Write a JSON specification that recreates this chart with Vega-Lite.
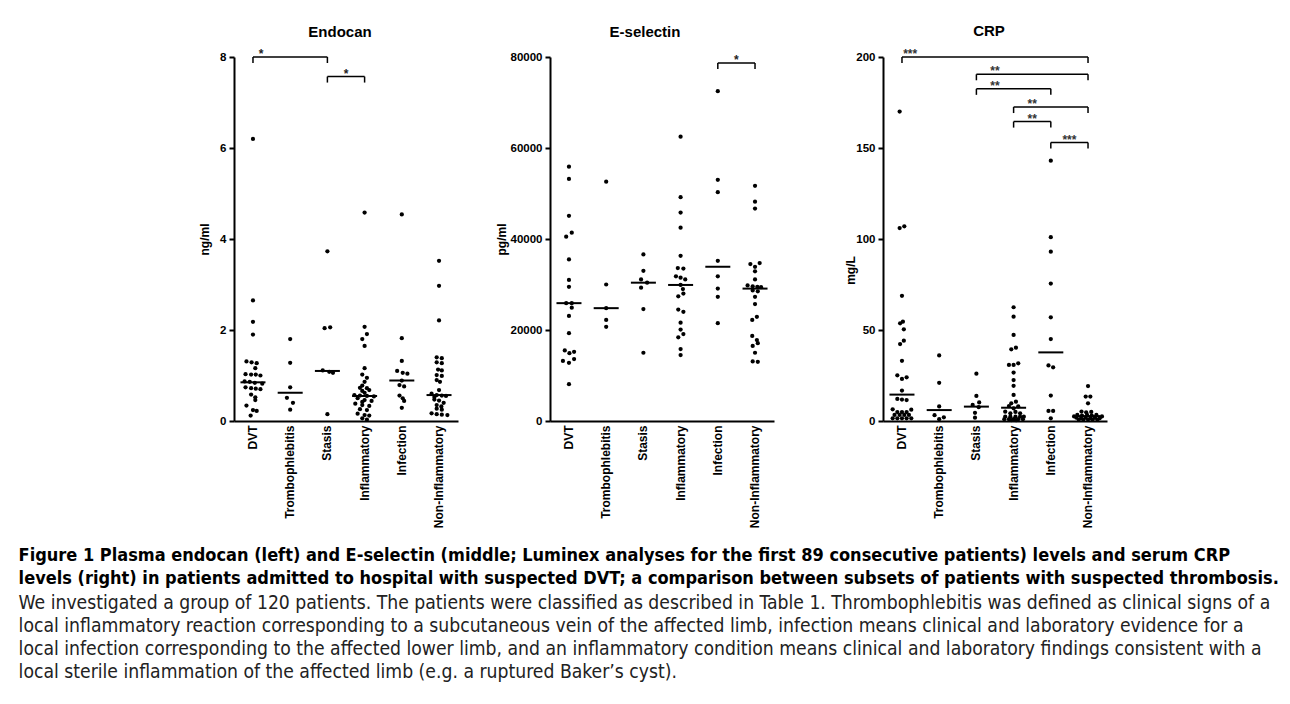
{
  "$schema": "https://vega.github.io/schema/vega-lite/v6.json",
  "background": "white",
  "padding": {"left": 18, "top": 24, "right": 5, "bottom": 5},
  "config": {
    "view": {"stroke": null},
    "axis": {"grid": false, "domainColor": "black", "domainWidth": 2, "tickColor": "black", "tickWidth": 2, "labelColor": "black", "labelFont": "Liberation Sans", "labelFontWeight": "bold", "labelFontSize": 11.5, "titleFont": "Liberation Sans", "titleFontWeight": "bold", "titleFontSize": 12, "titleColor": "black"},
    "axisX": {"ticks": false, "labelAngle": -90, "labelPadding": 4, "labelFontSize": 12},
    "axisY": {"tickSize": 5, "labelPadding": 3}
  },
  "datasets": {
    "endo": [
      {"g":"DVT","v":6.2,"j":0},{"g":"DVT","v":2.65,"j":0},{"g":"DVT","v":2.18,"j":0},{"g":"DVT","v":1.9,"j":0},{"g":"DVT","v":1.31,"j":-1.4},{"g":"DVT","v":1.29,"j":-0.3},{"g":"DVT","v":1.27,"j":0.8},{"g":"DVT","v":1.16,"j":0.5},{"g":"DVT","v":1.03,"j":-1.6},{"g":"DVT","v":1.02,"j":-0.4},{"g":"DVT","v":1.02,"j":0.6},{"g":"DVT","v":1.0,"j":1.6},{"g":"DVT","v":0.87,"j":-1.8},{"g":"DVT","v":0.86,"j":-0.7},{"g":"DVT","v":0.84,"j":0.4},{"g":"DVT","v":0.82,"j":2.0},{"g":"DVT","v":0.74,"j":-1.6},{"g":"DVT","v":0.72,"j":-0.4},{"g":"DVT","v":0.71,"j":0.6},{"g":"DVT","v":0.7,"j":1.6},{"g":"DVT","v":0.58,"j":-0.4},{"g":"DVT","v":0.52,"j":0.5},{"g":"DVT","v":0.46,"j":0.5},{"g":"DVT","v":0.34,"j":-1.4},{"g":"DVT","v":0.24,"j":0},{"g":"DVT","v":0.22,"j":0.8},{"g":"DVT","v":0.12,"j":-0.5},
      {"g":"Trombophlebitis","v":1.8,"j":0},{"g":"Trombophlebitis","v":1.28,"j":0},{"g":"Trombophlebitis","v":0.74,"j":0},{"g":"Trombophlebitis","v":0.51,"j":-0.7},{"g":"Trombophlebitis","v":0.4,"j":0.6},{"g":"Trombophlebitis","v":0.25,"j":0},
      {"g":"Stasis","v":3.73,"j":0},{"g":"Stasis","v":2.06,"j":0.6},{"g":"Stasis","v":2.04,"j":-0.6},{"g":"Stasis","v":1.11,"j":-1.0},{"g":"Stasis","v":1.08,"j":0.4},{"g":"Stasis","v":1.06,"j":1.2},{"g":"Stasis","v":0.15,"j":0},
      {"g":"Inflammatory","v":4.58,"j":0},{"g":"Inflammatory","v":2.07,"j":0},{"g":"Inflammatory","v":1.91,"j":0.5},{"g":"Inflammatory","v":1.8,"j":-0.5},{"g":"Inflammatory","v":1.65,"j":0},{"g":"Inflammatory","v":1.16,"j":0},{"g":"Inflammatory","v":1.02,"j":-0.5},{"g":"Inflammatory","v":0.95,"j":0.5},{"g":"Inflammatory","v":0.86,"j":0},{"g":"Inflammatory","v":0.78,"j":-0.5},{"g":"Inflammatory","v":0.73,"j":-1.0},{"g":"Inflammatory","v":0.72,"j":0.5},{"g":"Inflammatory","v":0.66,"j":-0.5},{"g":"Inflammatory","v":0.68,"j":1.0},{"g":"Inflammatory","v":0.62,"j":0},{"g":"Inflammatory","v":0.57,"j":-2.2},{"g":"Inflammatory","v":0.56,"j":-1.0},{"g":"Inflammatory","v":0.55,"j":0.5},{"g":"Inflammatory","v":0.54,"j":2.0},{"g":"Inflammatory","v":0.5,"j":-1.5},{"g":"Inflammatory","v":0.46,"j":0},{"g":"Inflammatory","v":0.44,"j":1.5},{"g":"Inflammatory","v":0.42,"j":-0.5},{"g":"Inflammatory","v":0.38,"j":-2.0},{"g":"Inflammatory","v":0.35,"j":-0.5},{"g":"Inflammatory","v":0.33,"j":1.0},{"g":"Inflammatory","v":0.26,"j":-1.0},{"g":"Inflammatory","v":0.24,"j":0.5},{"g":"Inflammatory","v":0.16,"j":-1.5},{"g":"Inflammatory","v":0.13,"j":0},{"g":"Inflammatory","v":0.12,"j":1.0},{"g":"Inflammatory","v":0.06,"j":-0.5},{"g":"Inflammatory","v":0.03,"j":0.5},
      {"g":"Infection","v":4.54,"j":0},{"g":"Infection","v":1.82,"j":0},{"g":"Infection","v":1.32,"j":0},{"g":"Infection","v":1.1,"j":-1.0},{"g":"Infection","v":1.06,"j":0.2},{"g":"Infection","v":1.04,"j":1.2},{"g":"Infection","v":0.89,"j":0},{"g":"Infection","v":0.79,"j":-0.5},{"g":"Infection","v":0.76,"j":0.5},{"g":"Infection","v":0.56,"j":-0.5},{"g":"Infection","v":0.5,"j":0.2},{"g":"Infection","v":0.44,"j":0.5},{"g":"Infection","v":0.29,"j":0},
      {"g":"Non-Inflammatory","v":3.52,"j":0},{"g":"Non-Inflammatory","v":2.97,"j":0},{"g":"Non-Inflammatory","v":2.21,"j":0},{"g":"Non-Inflammatory","v":1.4,"j":-0.5},{"g":"Non-Inflammatory","v":1.38,"j":0.6},{"g":"Non-Inflammatory","v":1.29,"j":-0.5},{"g":"Non-Inflammatory","v":1.27,"j":0.6},{"g":"Non-Inflammatory","v":1.13,"j":-0.2},{"g":"Non-Inflammatory","v":1.11,"j":0.6},{"g":"Non-Inflammatory","v":1.01,"j":-0.5},{"g":"Non-Inflammatory","v":0.99,"j":0.6},{"g":"Non-Inflammatory","v":0.9,"j":-0.5},{"g":"Non-Inflammatory","v":0.86,"j":0.2},{"g":"Non-Inflammatory","v":0.68,"j":0},{"g":"Non-Inflammatory","v":0.6,"j":-1.6},{"g":"Non-Inflammatory","v":0.57,"j":-0.5},{"g":"Non-Inflammatory","v":0.56,"j":0.6},{"g":"Non-Inflammatory","v":0.55,"j":1.5},{"g":"Non-Inflammatory","v":0.53,"j":-1.0},{"g":"Non-Inflammatory","v":0.47,"j":-1.0},{"g":"Non-Inflammatory","v":0.45,"j":0},{"g":"Non-Inflammatory","v":0.4,"j":1.0},{"g":"Non-Inflammatory","v":0.35,"j":-0.5},{"g":"Non-Inflammatory","v":0.32,"j":0.5},{"g":"Non-Inflammatory","v":0.27,"j":-0.5},{"g":"Non-Inflammatory","v":0.25,"j":0.6},{"g":"Non-Inflammatory","v":0.17,"j":-1.6},{"g":"Non-Inflammatory","v":0.15,"j":-0.5},{"g":"Non-Inflammatory","v":0.14,"j":0.6},{"g":"Non-Inflammatory","v":0.13,"j":1.8}
    ],
    "esel": [
      {"g":"DVT","v":55900,"j":0},{"g":"DVT","v":53200,"j":0},{"g":"DVT","v":45100,"j":0},{"g":"DVT","v":41400,"j":0.6},{"g":"DVT","v":40500,"j":-0.6},{"g":"DVT","v":35500,"j":0},{"g":"DVT","v":31000,"j":0},{"g":"DVT","v":29500,"j":0},{"g":"DVT","v":25900,"j":-0.6},{"g":"DVT","v":25900,"j":0.6},{"g":"DVT","v":24900,"j":0.6},{"g":"DVT","v":23100,"j":0},{"g":"DVT","v":19300,"j":0},{"g":"DVT","v":15500,"j":-0.9},{"g":"DVT","v":15200,"j":1.1},{"g":"DVT","v":14900,"j":0.1},{"g":"DVT","v":13600,"j":1.1},{"g":"DVT","v":13200,"j":-1.3},{"g":"DVT","v":12800,"j":0},{"g":"DVT","v":8100,"j":0},
      {"g":"Trombophlebitis","v":52600,"j":0},{"g":"Trombophlebitis","v":30000,"j":0},{"g":"Trombophlebitis","v":24800,"j":0},{"g":"Trombophlebitis","v":22200,"j":0},{"g":"Trombophlebitis","v":20700,"j":0},
      {"g":"Stasis","v":36600,"j":0},{"g":"Stasis","v":33000,"j":0},{"g":"Stasis","v":31100,"j":-0.5},{"g":"Stasis","v":30400,"j":0.8},{"g":"Stasis","v":29300,"j":-0.5},{"g":"Stasis","v":24600,"j":0},{"g":"Stasis","v":15000,"j":0},
      {"g":"Inflammatory","v":62500,"j":0},{"g":"Inflammatory","v":49200,"j":0},{"g":"Inflammatory","v":45800,"j":0},{"g":"Inflammatory","v":42500,"j":0},{"g":"Inflammatory","v":36300,"j":0},{"g":"Inflammatory","v":33600,"j":-0.6},{"g":"Inflammatory","v":33500,"j":0.6},{"g":"Inflammatory","v":31800,"j":-1.0},{"g":"Inflammatory","v":31500,"j":0},{"g":"Inflammatory","v":31100,"j":1.0},{"g":"Inflammatory","v":29900,"j":0},{"g":"Inflammatory","v":29000,"j":0.5},{"g":"Inflammatory","v":28000,"j":0.6},{"g":"Inflammatory","v":27400,"j":-0.5},{"g":"Inflammatory","v":24500,"j":-0.5},{"g":"Inflammatory","v":24000,"j":0.6},{"g":"Inflammatory","v":21600,"j":0},{"g":"Inflammatory","v":20100,"j":0},{"g":"Inflammatory","v":19100,"j":0.6},{"g":"Inflammatory","v":18400,"j":-0.5},{"g":"Inflammatory","v":15800,"j":0},{"g":"Inflammatory","v":14500,"j":0},
      {"g":"Infection","v":72500,"j":0},{"g":"Infection","v":53000,"j":0},{"g":"Infection","v":50300,"j":0},{"g":"Infection","v":35200,"j":0},{"g":"Infection","v":31800,"j":0},{"g":"Infection","v":29100,"j":0},{"g":"Infection","v":27300,"j":0},{"g":"Infection","v":21500,"j":0},
      {"g":"Non-Inflammatory","v":51700,"j":0},{"g":"Non-Inflammatory","v":48200,"j":0},{"g":"Non-Inflammatory","v":46700,"j":0},{"g":"Non-Inflammatory","v":34700,"j":1.0},{"g":"Non-Inflammatory","v":34500,"j":-1.0},{"g":"Non-Inflammatory","v":33900,"j":0},{"g":"Non-Inflammatory","v":32900,"j":0},{"g":"Non-Inflammatory","v":31100,"j":0},{"g":"Non-Inflammatory","v":29800,"j":-1.6},{"g":"Non-Inflammatory","v":29600,"j":-0.5},{"g":"Non-Inflammatory","v":29500,"j":0.5},{"g":"Non-Inflammatory","v":29400,"j":1.3},{"g":"Non-Inflammatory","v":28700,"j":-0.5},{"g":"Non-Inflammatory","v":28500,"j":0.6},{"g":"Non-Inflammatory","v":27300,"j":0},{"g":"Non-Inflammatory","v":25700,"j":0},{"g":"Non-Inflammatory","v":22900,"j":0.4},{"g":"Non-Inflammatory","v":22200,"j":-0.6},{"g":"Non-Inflammatory","v":18700,"j":-0.6},{"g":"Non-Inflammatory","v":17800,"j":0.4},{"g":"Non-Inflammatory","v":17100,"j":0.6},{"g":"Non-Inflammatory","v":16500,"j":-0.5},{"g":"Non-Inflammatory","v":15000,"j":0},{"g":"Non-Inflammatory","v":13100,"j":-0.5},{"g":"Non-Inflammatory","v":13000,"j":0.6}
    ],
    "crp": [
      {"g":"DVT","v":170,"j":-0.5},{"g":"DVT","v":107,"j":0.5},{"g":"DVT","v":106,"j":-0.5},{"g":"DVT","v":68.8,"j":0},{"g":"DVT","v":54.6,"j":0.2},{"g":"DVT","v":53.7,"j":-0.4},{"g":"DVT","v":50.4,"j":0.4},{"g":"DVT","v":44.1,"j":0.4},{"g":"DVT","v":42.3,"j":-0.4},{"g":"DVT","v":33.1,"j":0},{"g":"DVT","v":25.1,"j":-1.0},{"g":"DVT","v":24.0,"j":1.0},{"g":"DVT","v":23.1,"j":0},{"g":"DVT","v":16.7,"j":0},{"g":"DVT","v":12.1,"j":-1.0},{"g":"DVT","v":11.8,"j":0},{"g":"DVT","v":11.5,"j":1.0},{"g":"DVT","v":6.4,"j":-2.0},{"g":"DVT","v":6.2,"j":2.0},{"g":"DVT","v":4.9,"j":-1.0},{"g":"DVT","v":4.9,"j":0},{"g":"DVT","v":4.9,"j":1.0},{"g":"DVT","v":3.3,"j":-1.6},{"g":"DVT","v":3.3,"j":-0.5},{"g":"DVT","v":3.3,"j":0.5},{"g":"DVT","v":3.3,"j":1.5},{"g":"DVT","v":1.5,"j":-2.0},{"g":"DVT","v":1.5,"j":-1.0},{"g":"DVT","v":1.5,"j":0},{"g":"DVT","v":1.5,"j":1.0},{"g":"DVT","v":1.5,"j":2.0},
      {"g":"Trombophlebitis","v":36.0,"j":0},{"g":"Trombophlebitis","v":21.0,"j":0},{"g":"Trombophlebitis","v":8.0,"j":0},{"g":"Trombophlebitis","v":3.2,"j":-1.0},{"g":"Trombophlebitis","v":2.0,"j":1.0},{"g":"Trombophlebitis","v":1.0,"j":0},
      {"g":"Stasis","v":26.0,"j":0},{"g":"Stasis","v":13.8,"j":0},{"g":"Stasis","v":10.2,"j":0.6},{"g":"Stasis","v":8.8,"j":-0.8},{"g":"Stasis","v":7.6,"j":0.5},{"g":"Stasis","v":4.5,"j":-0.3},{"g":"Stasis","v":1.8,"j":-0.3},
      {"g":"Inflammatory","v":62.5,"j":0},{"g":"Inflammatory","v":57.3,"j":0},{"g":"Inflammatory","v":47.3,"j":0},{"g":"Inflammatory","v":40.3,"j":0.5},{"g":"Inflammatory","v":39.4,"j":-0.5},{"g":"Inflammatory","v":31.7,"j":1.0},{"g":"Inflammatory","v":30.8,"j":0},{"g":"Inflammatory","v":30.8,"j":-1.0},{"g":"Inflammatory","v":26.6,"j":0},{"g":"Inflammatory","v":22.5,"j":0},{"g":"Inflammatory","v":19.3,"j":0},{"g":"Inflammatory","v":14.3,"j":0},{"g":"Inflammatory","v":10.6,"j":0.5},{"g":"Inflammatory","v":9.7,"j":-0.5},{"g":"Inflammatory","v":8.2,"j":-1.0},{"g":"Inflammatory","v":8.0,"j":1.0},{"g":"Inflammatory","v":7.0,"j":0},{"g":"Inflammatory","v":5.1,"j":-1.8},{"g":"Inflammatory","v":5.0,"j":0.4},{"g":"Inflammatory","v":4.2,"j":-0.7},{"g":"Inflammatory","v":4.2,"j":1.4},{"g":"Inflammatory","v":2.4,"j":-1.8},{"g":"Inflammatory","v":2.4,"j":-0.7},{"g":"Inflammatory","v":2.4,"j":0.4},{"g":"Inflammatory","v":2.4,"j":1.4},{"g":"Inflammatory","v":2.4,"j":2.2},{"g":"Inflammatory","v":1.0,"j":-2.0},{"g":"Inflammatory","v":1.0,"j":-1.0},{"g":"Inflammatory","v":1.0,"j":0},{"g":"Inflammatory","v":1.0,"j":1.0},{"g":"Inflammatory","v":1.0,"j":2.0},{"g":"Inflammatory","v":0.5,"j":-0.5},{"g":"Inflammatory","v":0.5,"j":0.5},
      {"g":"Infection","v":143,"j":0},{"g":"Infection","v":101,"j":0},{"g":"Infection","v":93,"j":0},{"g":"Infection","v":75.5,"j":0},{"g":"Infection","v":57,"j":0},{"g":"Infection","v":45,"j":0},{"g":"Infection","v":30.5,"j":-0.5},{"g":"Infection","v":29.5,"j":0.5},{"g":"Infection","v":14,"j":0},{"g":"Infection","v":5.5,"j":-0.5},{"g":"Infection","v":5.5,"j":0.5},{"g":"Infection","v":1.5,"j":0},
      {"g":"Non-Inflammatory","v":19.2,"j":0},{"g":"Non-Inflammatory","v":13.4,"j":-0.5},{"g":"Non-Inflammatory","v":13.4,"j":0.5},{"g":"Non-Inflammatory","v":9.7,"j":0},{"g":"Non-Inflammatory","v":5.2,"j":-1.4},{"g":"Non-Inflammatory","v":4.8,"j":-0.4},{"g":"Non-Inflammatory","v":5.0,"j":0.7},{"g":"Non-Inflammatory","v":3.3,"j":-2.3},{"g":"Non-Inflammatory","v":3.0,"j":-1.3},{"g":"Non-Inflammatory","v":3.3,"j":-0.2},{"g":"Non-Inflammatory","v":3.0,"j":0.8},{"g":"Non-Inflammatory","v":3.3,"j":1.8},{"g":"Non-Inflammatory","v":1.8,"j":-2.5},{"g":"Non-Inflammatory","v":1.5,"j":-1.5},{"g":"Non-Inflammatory","v":1.8,"j":-0.5},{"g":"Non-Inflammatory","v":1.5,"j":0.5},{"g":"Non-Inflammatory","v":1.8,"j":1.5},{"g":"Non-Inflammatory","v":1.5,"j":2.5},{"g":"Non-Inflammatory","v":0.8,"j":-2},{"g":"Non-Inflammatory","v":0.8,"j":-1},{"g":"Non-Inflammatory","v":0.8,"j":0},{"g":"Non-Inflammatory","v":0.8,"j":1},{"g":"Non-Inflammatory","v":0.8,"j":2},{"g":"Non-Inflammatory","v":2.5,"j":-3},{"g":"Non-Inflammatory","v":2.5,"j":3}
    ],
    "endoMed": [{"g":"DVT","m":0.85},{"g":"Trombophlebitis","m":0.62},{"g":"Stasis","m":1.1},{"g":"Inflammatory","m":0.55},{"g":"Infection","m":0.89},{"g":"Non-Inflammatory","m":0.57}],
    "eselMed": [{"g":"DVT","m":25900},{"g":"Trombophlebitis","m":24800},{"g":"Stasis","m":30400},{"g":"Inflammatory","m":29900},{"g":"Infection","m":33900},{"g":"Non-Inflammatory","m":29100}],
    "crpMed": [{"g":"DVT","m":14.5},{"g":"Trombophlebitis","m":6.0},{"g":"Stasis","m":7.9},{"g":"Inflammatory","m":7.3},{"g":"Infection","m":37.7},{"g":"Non-Inflammatory","m":2.7}],
    "endoBr": [{"a":"DVT","b":"Stasis","y":8,"s":"*"},{"a":"Stasis","b":"Inflammatory","y":7.57,"s":"*"}],
    "eselBr": [{"a":"Infection","b":"Non-Inflammatory","y":78700,"s":"*"}],
    "crpBr": [{"a":"DVT","b":"Non-Inflammatory","y":200,"s":"***"},{"a":"Stasis","b":"Non-Inflammatory","y":190.5,"s":"**"},{"a":"Stasis","b":"Infection","y":182.5,"s":"**"},{"a":"Inflammatory","b":"Non-Inflammatory","y":172.5,"s":"**"},{"a":"Inflammatory","b":"Infection","y":164.5,"s":"**"},{"a":"Infection","b":"Non-Inflammatory","y":153,"s":"***"}]
  },
  "title": {
    "text": ["We investigated a group of 120 patients. The patients were classified as described in Table 1. Thrombophlebitis was defined as clinical signs of a", "local inflammatory reaction corresponding to a subcutaneous vein of the affected limb, infection means clinical and laboratory evidence for a", "local infection corresponding to the affected lower limb, and an inflammatory condition means clinical and laboratory findings consistent with a", "local sterile inflammation of the affected limb (e.g. a ruptured Baker’s cyst)."],
    "orient": "bottom", "anchor": "start", "offset": 6, "font": "DejaVu Sans Condensed, Liberation Sans", "fontSize": 19.2, "fontWeight": "normal", "lineHeight": 23, "color": "#222"
  },
  "hconcat": [
    {
      "title": {
        "text": ["Figure 1 Plasma endocan (left) and E-selectin (middle; Luminex analyses for the first 89 consecutive patients) levels and serum CRP", "levels (right) in patients admitted to hospital with suspected DVT; a comparison between subsets of patients with suspected thrombosis."],
        "orient": "bottom", "anchor": "start", "dx": -180, "offset": 19, "font": "DejaVu Sans Condensed, Liberation Sans", "fontSize": 18, "fontWeight": "bold", "lineHeight": 23, "color": "black"
      },
      "spacing": 70,
      "hconcat": [
        {
          "bounds": "flush",
          "spacing": 92,
          "hconcat": [
            {
              "width": 224, "height": 364,
              "title": {"text": "Endocan", "font": "Liberation Sans", "fontSize": 15, "fontWeight": "bold", "color": "black", "offset": 8, "dx": -6},
              "layer": [
                {"data": {"name": "endo"}, "mark": {"type": "circle", "size": 18, "color": "black", "opacity": 1},
                 "encoding": {
                   "x": {"field": "g", "type": "nominal", "title": null, "scale": {"type": "band", "domain": ["DVT","Trombophlebitis","Stasis","Inflammatory","Infection","Non-Inflammatory"], "paddingInner": 0, "paddingOuter": 0.01}},
                   "xOffset": {"field": "j", "type": "quantitative", "scale": {"domain": [-4, 4], "range": [0, 37.2]}},
                   "y": {"field": "v", "type": "quantitative", "title": "ng/ml", "scale": {"domain": [0, 8], "nice": false}, "axis": {"values": [0, 2, 4, 6, 8], "titlePadding": 8}}}},
                {"data": {"name": "endoMed"}, "mark": {"type": "tick", "color": "black", "opacity": 1, "thickness": 2, "size": 25},
                 "encoding": {"x": {"field": "g", "type": "nominal", "title": null}, "y": {"field": "m", "type": "quantitative", "title": "ng/ml"}}},
                {"data": {"name": "endoBr"}, "mark": {"type": "rule", "color": "black", "strokeWidth": 1.5},
                 "encoding": {"x": {"field": "a", "type": "nominal", "title": null, "bandPosition": 0.5}, "x2": {"field": "b", "bandPosition": 0.5}, "y": {"field": "y", "type": "quantitative", "title": "ng/ml"}}},
                {"data": {"name": "endoBr"}, "transform": [{"fold": ["a", "b"], "as": ["k", "c"]}], "mark": {"type": "tick", "orient": "vertical", "color": "black", "opacity": 1, "thickness": 1.5, "size": 6, "yOffset": 3},
                 "encoding": {"x": {"field": "c", "type": "nominal", "title": null}, "y": {"field": "y", "type": "quantitative", "title": "ng/ml"}}},
                {"data": {"name": "endoBr"}, "transform": [{"filter": "datum.a != 'DVT'"}], "mark": {"type": "text", "font": "Liberation Sans", "fontSize": 12, "fontWeight": "bold", "baseline": "alphabetic", "dy": 1, "color": "#222"},
                 "encoding": {"x": {"field": "a", "type": "nominal", "title": null, "bandPosition": 1}, "y": {"field": "y", "type": "quantitative", "title": "ng/ml"}, "text": {"field": "s"}}},
                {"data": {"name": "endoBr"}, "transform": [{"filter": "datum.a == 'DVT'"}], "mark": {"type": "text", "font": "Liberation Sans", "fontSize": 12, "fontWeight": "bold", "baseline": "alphabetic", "dy": 1, "color": "#222"},
                 "encoding": {"x": {"field": "a", "type": "nominal", "title": null, "bandPosition": 0.72}, "y": {"field": "y", "type": "quantitative", "title": "ng/ml"}, "text": {"field": "s"}}}
              ]
            },
            {
              "width": 224, "height": 364,
              "title": {"text": "E-selectin", "font": "Liberation Sans", "fontSize": 15, "fontWeight": "bold", "color": "black", "offset": 11, "dx": -17},
              "layer": [
                {"data": {"name": "esel"}, "mark": {"type": "circle", "size": 18, "color": "black", "opacity": 1},
                 "encoding": {
                   "x": {"field": "g", "type": "nominal", "title": null, "scale": {"type": "band", "domain": ["DVT","Trombophlebitis","Stasis","Inflammatory","Infection","Non-Inflammatory"], "paddingInner": 0, "paddingOuter": 0.01}},
                   "xOffset": {"field": "j", "type": "quantitative", "scale": {"domain": [-4, 4], "range": [0, 37.2]}},
                   "y": {"field": "v", "type": "quantitative", "title": "pg/ml", "scale": {"domain": [0, 80000], "nice": false}, "axis": {"values": [0, 20000, 40000, 60000, 80000], "format": "d", "titlePadding": 2}}}},
                {"data": {"name": "eselMed"}, "mark": {"type": "tick", "color": "black", "opacity": 1, "thickness": 2, "size": 25},
                 "encoding": {"x": {"field": "g", "type": "nominal", "title": null}, "y": {"field": "m", "type": "quantitative", "title": "pg/ml"}}},
                {"data": {"name": "eselBr"}, "mark": {"type": "rule", "color": "black", "strokeWidth": 1.5},
                 "encoding": {"x": {"field": "a", "type": "nominal", "title": null, "bandPosition": 0.5}, "x2": {"field": "b", "bandPosition": 0.5}, "y": {"field": "y", "type": "quantitative", "title": "pg/ml"}}},
                {"data": {"name": "eselBr"}, "transform": [{"fold": ["a", "b"], "as": ["k", "c"]}], "mark": {"type": "tick", "orient": "vertical", "color": "black", "opacity": 1, "thickness": 1.5, "size": 6, "yOffset": 3},
                 "encoding": {"x": {"field": "c", "type": "nominal", "title": null}, "y": {"field": "y", "type": "quantitative", "title": "pg/ml"}}},
                {"data": {"name": "eselBr"}, "mark": {"type": "text", "font": "Liberation Sans", "fontSize": 12, "fontWeight": "bold", "baseline": "alphabetic", "dy": 1, "color": "#222"},
                 "encoding": {"x": {"field": "a", "type": "nominal", "title": null, "bandPosition": 1}, "y": {"field": "y", "type": "quantitative", "title": "pg/ml"}, "text": {"field": "s"}}}
              ]
            }
          ]
        },
        {
          "width": 224, "height": 364,
          "title": {"text": "CRP", "font": "Liberation Sans", "fontSize": 15, "fontWeight": "bold", "color": "black", "offset": 9, "dx": -6},
          "layer": [
            {"data": {"name": "crp"}, "mark": {"type": "circle", "size": 18, "color": "black", "opacity": 1},
             "encoding": {
               "x": {"field": "g", "type": "nominal", "title": null, "scale": {"type": "band", "domain": ["DVT","Trombophlebitis","Stasis","Inflammatory","Infection","Non-Inflammatory"], "paddingInner": 0, "paddingOuter": 0.01}},
               "xOffset": {"field": "j", "type": "quantitative", "scale": {"domain": [-4, 4], "range": [0, 37.2]}},
               "y": {"field": "v", "type": "quantitative", "title": "mg/L", "scale": {"domain": [0, 200], "nice": false}, "axis": {"values": [0, 50, 100, 150, 200], "titlePadding": -2, "titleY": 213}}}},
            {"data": {"name": "crpMed"}, "mark": {"type": "tick", "color": "black", "opacity": 1, "thickness": 2, "size": 25},
             "encoding": {"x": {"field": "g", "type": "nominal", "title": null}, "y": {"field": "m", "type": "quantitative", "title": "mg/L"}}},
            {"data": {"name": "crpBr"}, "mark": {"type": "rule", "color": "black", "strokeWidth": 1.5},
             "encoding": {"x": {"field": "a", "type": "nominal", "title": null, "bandPosition": 0.5}, "x2": {"field": "b", "bandPosition": 0.5}, "y": {"field": "y", "type": "quantitative", "title": "mg/L"}}},
            {"data": {"name": "crpBr"}, "transform": [{"fold": ["a", "b"], "as": ["k", "c"]}], "mark": {"type": "tick", "orient": "vertical", "color": "black", "opacity": 1, "thickness": 1.5, "size": 6, "yOffset": 3},
             "encoding": {"x": {"field": "c", "type": "nominal", "title": null}, "y": {"field": "y", "type": "quantitative", "title": "mg/L"}}},
            {"data": {"name": "crpBr"}, "transform": [{"filter": "datum.a != 'DVT'"}], "mark": {"type": "text", "font": "Liberation Sans", "fontSize": 12, "fontWeight": "bold", "baseline": "alphabetic", "dy": 1, "color": "#333"},
             "encoding": {"x": {"field": "a", "type": "nominal", "title": null, "bandPosition": 1}, "y": {"field": "y", "type": "quantitative", "title": "mg/L"}, "text": {"field": "s"}}},
            {"data": {"name": "crpBr"}, "transform": [{"filter": "datum.a == 'DVT'"}], "mark": {"type": "text", "font": "Liberation Sans", "fontSize": 12, "fontWeight": "bold", "baseline": "alphabetic", "dy": 1, "color": "#333"},
             "encoding": {"x": {"field": "a", "type": "nominal", "title": null, "bandPosition": 0.72}, "y": {"field": "y", "type": "quantitative", "title": "mg/L"}, "text": {"field": "s"}}}
          ]
        }
      ]
    }
  ]
}
